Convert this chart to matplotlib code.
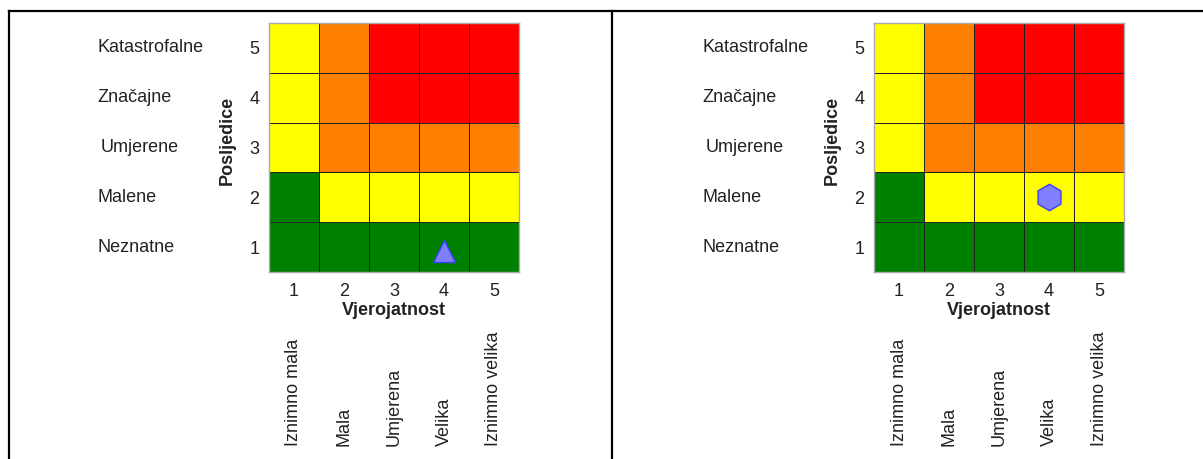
import matplotlib
matplotlib.use("Agg")
import matplotlib.pyplot as plt
import numpy as np
from matplotlib.colors import ListedColormap
from matplotlib.lines import Line2D
from matplotlib.transforms import blended_transform_factory

plt.rcParams['font.family'] = ['Liberation Sans', 'DejaVu Sans']

# ---- data ----
likelihood = [1, 2, 3, 4, 5]
consequence = [1, 2, 3, 4, 5]
consequence_labels = ["Neznatne", "Malene", "Umjerene", "Značajne", "Katastrofalne"]
likelihood_labels = ["Iznimno mala", "Mala", "Umjerena", "Velika", "Iznimno velika"]
# risk level per cell: rows = consequence 1..5 (bottom to top), cols = likelihood 1..5
# 0 green, 1 yellow, 2 orange, 3 red
risk_matrix = [
    [0, 0, 0, 0, 0],
    [0, 1, 1, 1, 1],
    [1, 2, 2, 2, 2],
    [1, 2, 3, 3, 3],
    [1, 2, 3, 3, 3],
]
risk_colors = ["#008000", "#ffff00", "#ff8000", "#ff0000"]
# markers: (likelihood, consequence)
marker_left = (4, 0.92)
marker_right = (4, 2)

W, H = 1203, 459
fig = plt.figure(figsize=(W / 100, H / 100), dpi=100)

text_color = "#222222"
fs = 13

def px_axes(x0, y0, x1, y1):
    return fig.add_axes([x0 / W, 1 - y1 / H, (x1 - x0) / W, (y1 - y0) / H])

def panel(ax, label_x, marker, shape, msize):
    cmap = ListedColormap(risk_colors)
    edges_x = np.arange(len(likelihood) + 1) + 0.5
    edges_y = np.arange(len(consequence) + 1) + 0.5
    ax.pcolormesh(edges_x, edges_y, np.array(risk_matrix), cmap=cmap,
                  vmin=-0.5, vmax=3.5, edgecolor="#222222", linewidth=0.45)
    ax.set_xlim(0.5, 5.5)
    ax.set_ylim(0.5, 5.5)
    ax.set_xticks(likelihood)
    ax.set_yticks(consequence)
    ax.tick_params(length=0, labelsize=fs, colors=text_color, pad=7)
    ax.tick_params(axis='x', pad=8)
    for s in ax.spines.values():
        s.set_color("#aaaaaa")
        s.set_linewidth(1.0)
    ax.text(0.5, -0.155, "Vjerojatnost", transform=ax.transAxes, ha="center",
            va="center", fontsize=fs, fontweight="bold", color=text_color)
    ax.text(-0.168, 0.53, "Posljedice", transform=ax.transAxes, ha="center",
            va="center", rotation=90, fontsize=fs, fontweight="bold", color=text_color)
    # consequence labels on the left
    tr = blended_transform_factory(fig.transFigure, ax.transData)
    for c, lab in zip(consequence, consequence_labels):
        dx = 4 if lab == "Umjerene" else 0
        ax.text((label_x + dx) / W, c, lab, transform=tr, ha="left", va="center",
                fontsize=fs, color=text_color, clip_on=False)
    # likelihood labels below, rotated
    tr2 = blended_transform_factory(ax.transData, fig.transFigure)
    for l, lab in zip(likelihood, likelihood_labels):
        ax.text(l, 1 - 446 / H, lab, transform=tr2, ha="center", va="bottom",
                rotation=90, fontsize=fs, color=text_color, clip_on=False)
    ax.plot([marker[0]], [marker[1]], marker=shape, markersize=msize,
            markerfacecolor="#8080ff", markeredgecolor="#3b3bff",
            markeredgewidth=1.0, linestyle="none", zorder=5)

ax1 = px_axes(269, 23, 519, 272)
panel(ax1, 97, marker_left, "^", 16)
ax2 = px_axes(874, 23, 1124, 272)
panel(ax2, 702, marker_right, "h", 19)

# outer table borders
lw = 1.6
ytop = 1 - 10.5 / H
fig.add_artist(Line2D([8.5 / W, 1.0], [ytop, ytop], transform=fig.transFigure,
                      color="black", linewidth=lw))
fig.add_artist(Line2D([8.5 / W, 8.5 / W], [0, ytop], transform=fig.transFigure,
                      color="black", linewidth=lw))
fig.add_artist(Line2D([612 / W, 612 / W], [0, ytop], transform=fig.transFigure,
                      color="black", linewidth=lw))

fig.savefig("out.png", dpi=100)
